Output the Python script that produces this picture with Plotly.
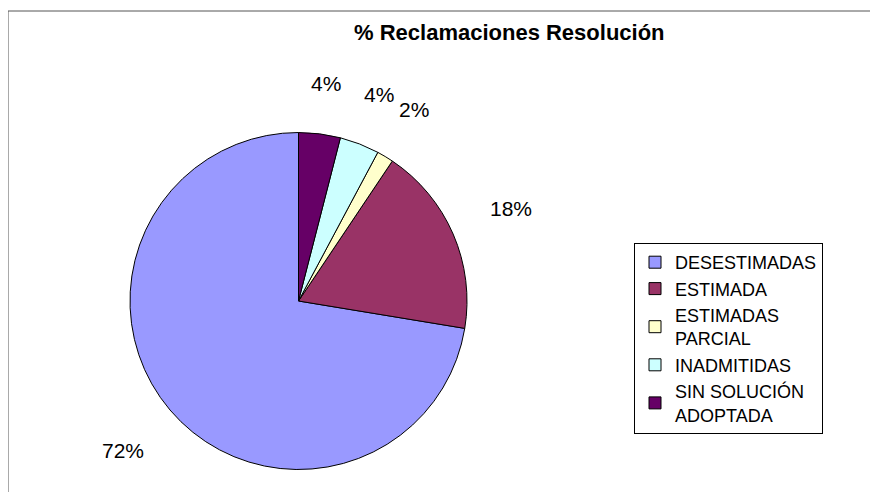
import numpy as np
import plotly.graph_objects as go

# ---- data ----
categories = ["DESESTIMADAS", "ESTIMADA", "ESTIMADAS<br>PARCIAL", "INADMITIDAS", "SIN SOLUCIÓN<br>ADOPTADA"]
values = [72.4, 18.2, 1.6, 3.8, 4.0]
colors = ["#9999FF", "#993366", "#FFFFCC", "#CCFFFF", "#660066"]
chart_title = "% Reclamaciones Resolución"

# ---- geometry (screen pixels; page body adds an 8px offset) ----
W, H = 878, 492
OFF = 8
cx, cy, R = 298.5 - OFF, 301.0 - OFF, 168.5
FONT = "Liberation Sans, Arial, sans-serif"
LABEL_FS = 21


def px2paper(x, y):
    return (x - OFF) / W, 1 - (y - OFF) / H


vals = np.array(values, dtype=float)
total = vals.sum()
# plotly's counterclockwise pies end the first slice at the rotation angle;
# rotate so the first slice starts at 12 o'clock (Excel style)
rot = 360.0 * (1 - vals[0] / total)

fig = go.Figure()
fig.add_trace(go.Pie(
    labels=categories,
    values=values,
    sort=False,
    direction="counterclockwise",
    rotation=rot,
    marker=dict(colors=colors, line=dict(color="#000000", width=1)),
    textinfo="none",
    hoverinfo="label+percent",
    domain=dict(x=[(cx - R) / W, (cx + R) / W],
                y=[(H - cy - R) / H, (H - cy + R) / H]),
))

# percentage labels outside, slices run counterclockwise from 12 o'clock
cum = np.cumsum(vals) - vals / 2
annotations = []
for v, c in zip(vals, cum):
    txt = f"{round(100 * v / total):.0f}%"
    a = 2 * np.pi * c / total
    s, co = np.sin(a), np.cos(a)
    hw = 0.5 * LABEL_FS * (0.556 * (len(txt) - 1) + 0.889)
    hh = 0.36 * LABEL_FS
    d = R + 41 + hw * abs(s) + hh * abs(co)
    sx = cx + OFF - s * d
    sy = cy + OFF - co * d
    ax, ay = px2paper(sx, sy)
    annotations.append(dict(
        x=ax, y=ay, xref="paper", yref="paper",
        text=txt, showarrow=False, xanchor="center", yanchor="middle",
        font=dict(family=FONT, size=LABEL_FS, color="#000000"),
    ))

# title
tx, ty = px2paper(509, 32)
annotations.append(dict(
    x=tx, y=ty, xref="paper", yref="paper",
    text="<b>" + chart_title + "</b>", showarrow=False,
    xanchor="center", yanchor="middle",
    font=dict(family=FONT, size=22, color="#000000"),
))

lx, ly = px2paper(634, 243)
fx, fy = px2paper(8, 11)

fig.update_layout(
    width=W, height=H,
    margin=dict(l=0, r=0, t=0, b=0),
    paper_bgcolor="#FFFFFF",
    plot_bgcolor="#FFFFFF",
    showlegend=True,
    legend=dict(
        x=lx, y=ly, xanchor="left", yanchor="top",
        bordercolor="#000000", borderwidth=1, bgcolor="#FFFFFF",
        font=dict(family=FONT, size=18, color="#000000"),
    ),
    annotations=annotations,
    shapes=[
        dict(type="line", xref="paper", yref="paper",
             x0=fx, x1=1.0, y0=fy, y1=fy,
             line=dict(color="#555555", width=1)),
        dict(type="line", xref="paper", yref="paper",
             x0=fx, x1=fx, y0=fy, y1=0.0,
             line=dict(color="#555555", width=1)),
    ],
)

fig.write_html("out.html")
